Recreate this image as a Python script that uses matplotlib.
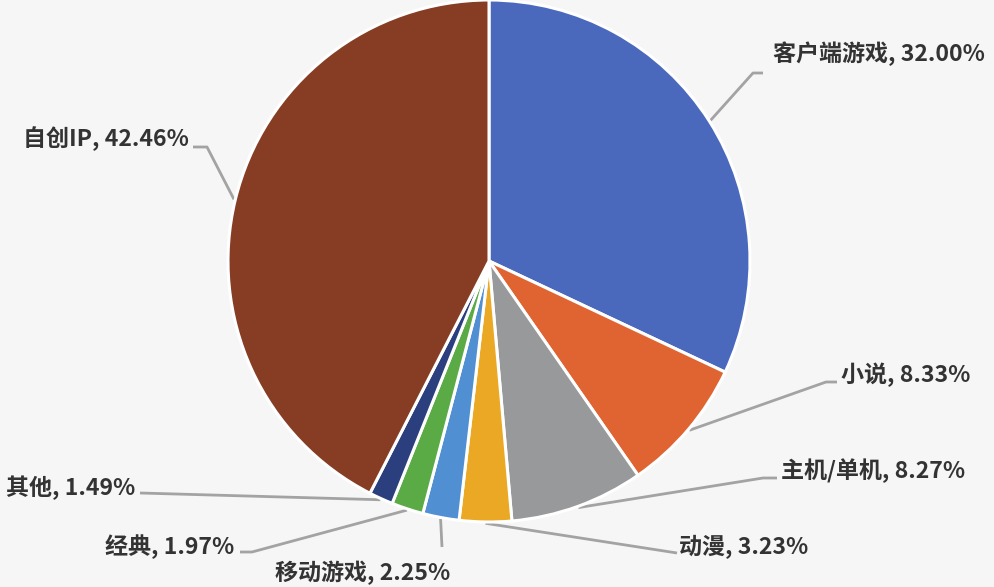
import numpy as np
import matplotlib
matplotlib.use('Agg')
import matplotlib.pyplot as plt

W, H = 995, 587

labels = ['客户端游戏', '小说', '主机/单机', '动漫', '移动游戏', '经典', '其他', '自创IP']
shares = [32.00, 8.33, 8.27, 3.23, 2.25, 1.97, 1.49, 42.46]
colors = ['#4a69bd', '#df6431', '#98999b', '#eaa825', '#4f8fd2',
          '#5aab45', '#2b3f7e', '#863d24']

# label layout in pixel coords: (elbow points after wedge edge, text x, text y, ha)
layout = {
    '客户端游戏': ([(753, 73), (763, 73)], 773, 54, 'left'),
    '小说': ([(826, 382), (837, 382)], 841, 375, 'left'),
    '主机/单机': ([(763, 478), (777, 478)], 781, 471, 'left'),
    '动漫': ([(677, 553)], 679, 547, 'left'),
    '移动游戏': ([(442, 547)], 363, 573, 'center'),
    '经典': ([(252, 552), (240, 552)], 234, 547, 'right'),
    '其他': ([(140, 493)], 135, 488, 'right'),
    '自创IP': ([(207, 147), (193, 147)], 189, 139, 'right'),
}

CX, CY, R = 489, 261, 261

fig = plt.figure(figsize=(W / 100, H / 100), dpi=100)
fig.patch.set_facecolor('#f6f6f6')
ax = fig.add_axes([0, 0, 1, 1])
ax.set_facecolor('#f6f6f6')

wedges, _ = ax.pie(shares, colors=colors, startangle=90, counterclock=False,
                   center=(CX, H - CY), radius=R,
                   wedgeprops=dict(edgecolor='white', linewidth=2.2))
ax.set_xlim(0, W)
ax.set_ylim(0, H)
ax.set_aspect('equal')
ax.axis('off')

for w, name, val in zip(wedges, labels, shares):
    mid = np.deg2rad((w.theta1 + w.theta2) / 2)
    x0 = CX + R * 1.005 * np.cos(mid)
    y0 = (H - CY) + R * 1.005 * np.sin(mid)
    pts, tx, ty, ha = layout[name]
    xs = [x0] + [p[0] for p in pts]
    ys = [y0] + [H - p[1] for p in pts]
    ax.plot(xs, ys, color='#a3a3a3', lw=2, solid_capstyle='butt', zorder=0)
    ax.text(tx, H - ty, f'{name}, {val:.2f}%', ha=ha, va='center',
            fontsize=16.6, fontweight='bold', color='#333333',
            family=['Noto Sans CJK SC', 'DejaVu Sans'])

fig.savefig('out.png', dpi=100, facecolor=fig.get_facecolor())
